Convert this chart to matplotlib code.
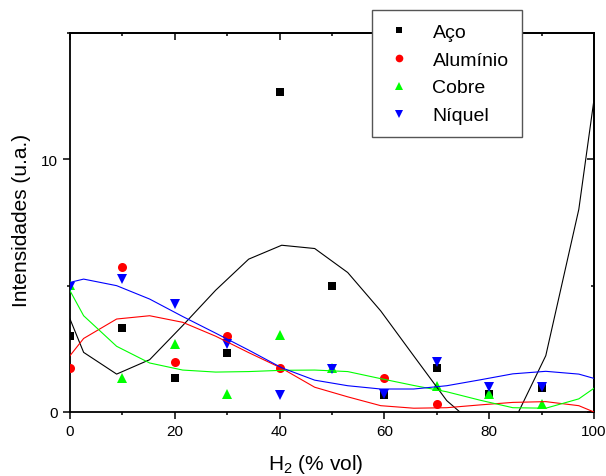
import matplotlib
matplotlib.use("Agg")
import matplotlib.pyplot as plt
from matplotlib.ticker import MultipleLocator

plt.rcParams["font.family"] = ["Liberation Sans", "DejaVu Sans"]
plt.rcParams["mathtext.fontset"] = "custom"
plt.rcParams["mathtext.rm"] = "Liberation Sans"

# Measured intensities vs. H2 content
h2 = [0, 10, 20, 30, 40, 50, 60, 70, 80, 90]
aco = [3.02, 3.31, 1.33, 2.32, 12.68, 4.99, 0.67, 1.73, 0.71, 0.95]
h2_al = [0, 10, 20, 30, 40, 60, 70]
aluminio = [1.73, 5.72, 1.99, 2.99, 1.73, 1.34, 0.32]
h2_cu = [0, 10, 20, 30, 40, 50, 70, 80, 90]
cobre = [5.02, 1.33, 2.71, 0.71, 3.04, 1.73, 1.04, 0.71, 0.32]
niquel = [4.93, 5.26, 4.27, 2.69, 0.67, 1.70, 0.71, 1.99, 0.98, 1.00]

# Smoothed fit curves
fit_h2 = [0, 2.6, 8.9, 15.2, 21.5, 27.8, 34.1, 40.4, 46.7, 53.0,
          59.3, 65.6, 71.9, 78.2, 84.5, 90.8, 97.1, 100]
fit_aco = [3.68, 2.36, 1.50, 2.07, 3.42, 4.82, 6.05, 6.60, 6.47, 5.52,
           4.00, 2.22, 0.45, -0.68, -0.47, 2.23, 8.02, 12.37]
fit_al = [2.23, 2.91, 3.68, 3.81, 3.55, 3.00, 2.35, 1.73, 0.98, 0.60,
          0.25, 0.15, 0.17, 0.28, 0.38, 0.41, 0.25, 0.0]
fit_cu = [4.80, 3.81, 2.60, 1.94, 1.66, 1.58, 1.60, 1.65, 1.66, 1.60,
          1.32, 1.05, 0.80, 0.47, 0.17, 0.15, 0.52, 0.94]
fit_ni = [5.13, 5.26, 5.00, 4.47, 3.78, 3.12, 2.45, 1.75, 1.26, 1.04,
          0.91, 0.91, 1.04, 1.27, 1.51, 1.61, 1.50, 1.33]

BLACK, RED, GREEN, BLUE = "#000000", "#ff0000", "#00ff00", "#0000ff"

fig = plt.figure(figsize=(6.06, 4.77), dpi=100)
ax = fig.add_axes([70 / 606, 1 - 413 / 477, 524 / 606, 379 / 477])

ax.plot(h2, aco, ls="none", marker="s", ms=5.5, color=BLACK, mew=0, label="Aço", zorder=3)
ax.plot(h2_al, aluminio, ls="none", marker="o", ms=6.5, color=RED, mew=0, label="Alumínio", zorder=3)
ax.plot(h2_cu, cobre, ls="none", marker="^", ms=7.5, color=GREEN, mew=0, label="Cobre", zorder=3)
ax.plot(h2, niquel, ls="none", marker="v", ms=7.5, color=BLUE, mew=0, label="Níquel", zorder=3)

for fit, c in ((fit_aco, BLACK), (fit_al, RED), (fit_cu, GREEN), (fit_ni, BLUE)):
    ax.plot(fit_h2, fit, color=c, lw=0.8, zorder=4)

ax.set_xlim(0, 100)
ax.set_ylim(0, 15)
ax.xaxis.set_major_locator(MultipleLocator(20))
ax.xaxis.set_minor_locator(MultipleLocator(10))
ax.yaxis.set_major_locator(MultipleLocator(10))
ax.yaxis.set_minor_locator(MultipleLocator(5))
for s in ax.spines.values():
    s.set_linewidth(1.3)
ax.tick_params(which="both", direction="out", width=1.1, labelsize=11, top=False, right=False)
ax.tick_params(which="major", length=5)
ax.tick_params(which="minor", length=2.5)

# mirrored ticks on top and right, pointing inward
top = ax.secondary_xaxis("top")
top.xaxis.set_major_locator(MultipleLocator(20))
top.xaxis.set_minor_locator(MultipleLocator(10))
top.tick_params(which="both", direction="in", width=1.1, labeltop=False)
top.tick_params(which="major", length=5)
top.tick_params(which="minor", length=2.5)
right = ax.secondary_yaxis("right")
right.yaxis.set_major_locator(MultipleLocator(10))
right.yaxis.set_minor_locator(MultipleLocator(5))
right.tick_params(which="both", direction="in", width=1.1, labelright=False)
right.tick_params(which="major", length=5)
right.tick_params(which="minor", length=2.5)
for sa in (top, right):
    for s in sa.spines.values():
        s.set_linewidth(1.3)

ax.set_xlabel(r"H$_\mathregular{2}$ (% vol)", fontsize=15)
ax.set_ylabel("Intensidades (u.a.)", fontsize=15)
ax.xaxis.set_label_coords(0.469, -0.106)
ax.yaxis.set_label_coords(-0.074, 0.509)

leg = ax.legend(loc="upper left", bbox_to_anchor=(372 / 606, 1 - 11 / 477),
                bbox_transform=fig.transFigure, borderaxespad=0, fontsize=14,
                frameon=True, fancybox=False, framealpha=1, edgecolor="#555555",
                labelspacing=0.53, handlelength=1.44, handletextpad=1.0,
                borderpad=0.67, markerscale=0.85)
leg.get_frame().set_linewidth(1.0)
leg.set_zorder(10)

fig.savefig("out.png", dpi=100)
